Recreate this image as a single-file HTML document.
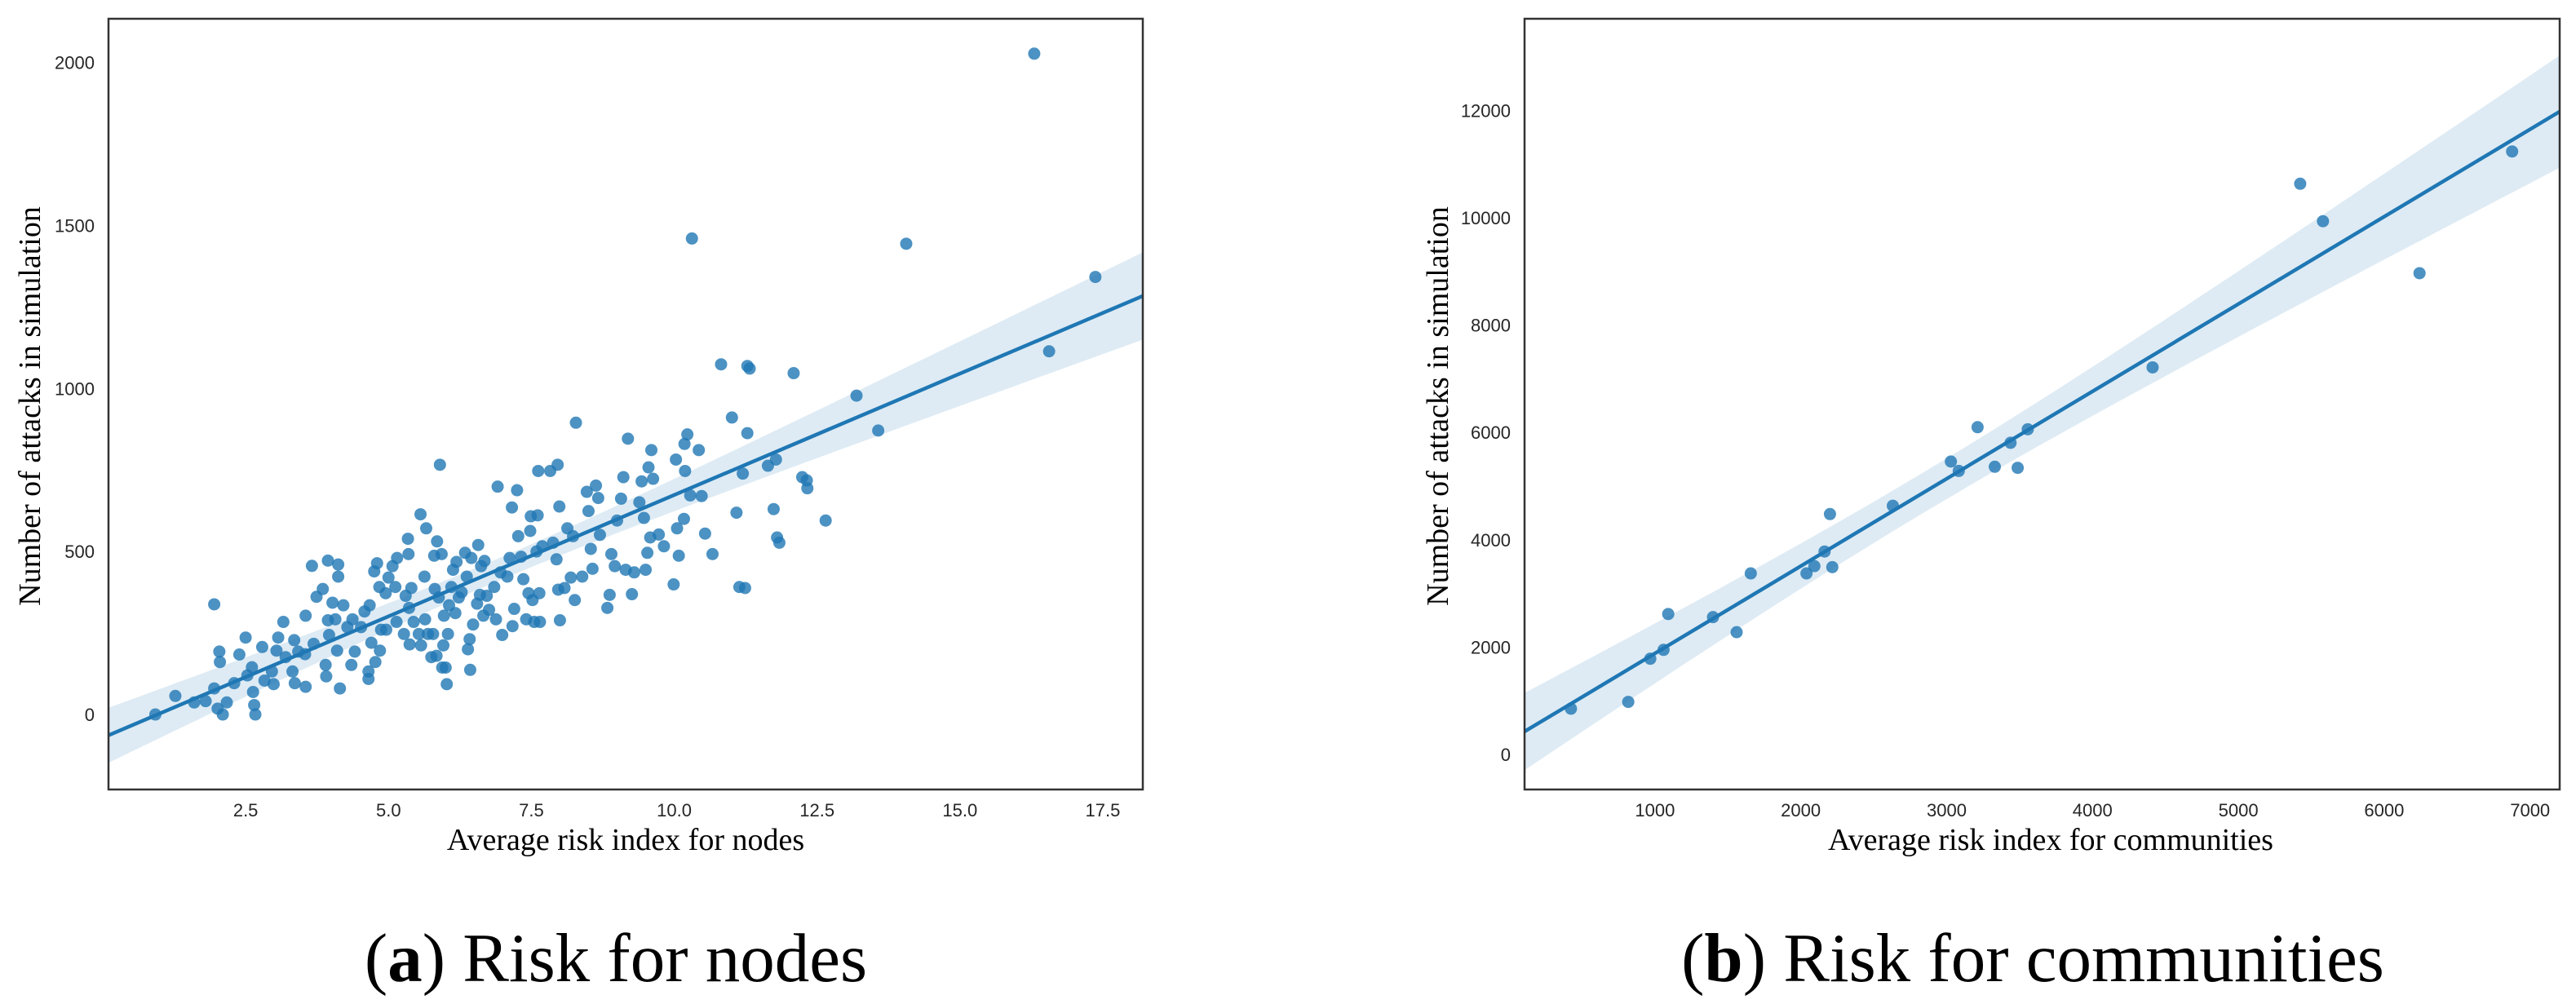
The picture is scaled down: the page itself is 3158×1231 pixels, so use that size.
<!DOCTYPE html>
<html><head><meta charset="utf-8"><style>
html,body{margin:0;padding:0;background:#fff;}
svg{display:block;}
.tick{font-family:"Liberation Sans",sans-serif;font-size:22px;fill:#262626;}
.lab{font-family:"Liberation Serif",serif;font-size:38px;fill:#000;}
.cap{font-family:"Liberation Serif",serif;font-size:85px;fill:#000;}
</style></head><body>
<svg id="fig" width="3158" height="1231" viewBox="0 0 3158 1231" xmlns="http://www.w3.org/2000/svg">
<rect width="3158" height="1231" fill="#fff"/>
<g id="pa"></g>
<g id="pb"></g>
<text class="lab" x="767" y="1042" text-anchor="middle">Average risk index for nodes</text>
<text class="lab" transform="translate(49,498) rotate(-90)" text-anchor="middle">Number of attacks in simulation</text>
<text class="lab" x="2514" y="1042" text-anchor="middle">Average risk index for communities</text>
<text class="lab" transform="translate(1775,498) rotate(-90)" text-anchor="middle">Number of attacks in simulation</text>
<text class="cap" x="755" y="1203" text-anchor="middle">(<tspan font-weight="bold">a</tspan>) Risk for nodes</text>
<text class="cap" x="2492" y="1203" text-anchor="middle">(<tspan font-weight="bold">b</tspan>) Risk for communities</text>
</svg>
<script>
const nodesX=[0.92,1.27,1.60,1.80,1.95,1.95,2.04,2.05,2.01,2.10,2.17,2.30,2.39,2.5,2.53,2.61,2.63,2.65,2.67,2.79,2.83,2.96,2.99,3.04,3.07,3.16,3.20,3.32,3.35,3.36,3.42,3.54,3.55,3.55,3.66,3.69,3.74,3.85,3.90,3.91,3.94,3.94,3.96,4.02,4.07,4.10,4.12,4.12,4.15,4.21,4.28,4.35,4.37,4.41,4.52,4.58,4.65,4.65,4.67,4.70,4.75,4.77,4.80,4.84,4.85,4.87,4.95,4.96,5.00,5.07,5.12,5.14,5.15,5.27,5.30,5.34,5.35,5.36,5.37,5.40,5.44,5.53,5.56,5.57,5.63,5.64,5.66,5.69,5.75,5.78,5.80,5.81,5.84,5.85,5.88,5.90,5.93,5.94,5.96,5.97,6.00,6.02,6.04,6.06,6.10,6.13,6.17,6.19,6.23,6.28,6.34,6.37,6.39,6.42,6.43,6.45,6.48,6.55,6.57,6.60,6.62,6.66,6.68,6.72,6.76,6.85,6.88,6.91,6.96,6.99,7.08,7.12,7.16,7.17,7.20,7.25,7.27,7.32,7.36,7.41,7.45,7.48,7.49,7.52,7.55,7.59,7.61,7.62,7.64,7.65,7.69,7.83,7.88,7.94,7.96,7.97,7.99,8.00,8.08,8.13,8.19,8.23,8.26,8.28,8.39,8.47,8.50,8.54,8.57,8.63,8.67,8.70,8.83,8.87,8.90,8.96,9.00,9.07,9.11,9.15,9.19,9.26,9.30,9.39,9.43,9.47,9.50,9.53,9.55,9.58,9.60,9.63,9.73,9.82,9.99,10.03,10.05,10.08,10.17,10.18,10.19,10.23,10.28,10.31,10.43,10.48,10.54,10.67,10.82,11.01,11.09,11.14,11.20,11.24,11.28,11.28,11.32,11.64,11.74,11.78,11.80,11.84,12.09,12.24,12.32,12.33,12.65,13.19,13.57,14.06,16.30,16.56,17.37];
const nodesY=[0,57,37,41,338,80,193,161,18,0,37,96,184,236,120,145,69,29,0,207,104,132,93,196,236,284,176,132,228,96,193,185,303,85,456,217,361,385,152,117,472,289,244,343,292,196,460,423,80,335,268,152,292,193,268,316,132,109,335,220,439,161,464,391,196,260,372,260,420,455,391,284,480,247,364,539,492,327,215,388,284,247,614,212,423,292,571,247,176,247,487,385,180,531,359,766,492,144,212,303,144,93,247,335,391,444,311,468,359,375,496,423,200,231,137,480,276,340,520,367,455,303,471,364,321,391,292,699,436,244,423,480,635,271,324,688,547,484,415,292,372,563,608,351,284,500,611,747,372,284,516,747,527,476,766,383,638,289,388,571,420,547,351,895,423,683,624,508,447,702,664,551,327,367,492,455,595,662,728,444,846,369,436,651,715,603,444,496,758,543,811,723,552,516,399,782,571,487,600,830,747,859,672,1460,811,670,555,492,1074,911,619,391,739,388,1069,863,1061,763,630,782,543,527,1047,728,718,694,595,978,871,1444,2027,1114,1342];
const nodesXTicks=[2.5,5.0,7.5,10.0,12.5,15.0,17.5];
const nodesYTicks=[0,500,1000,1500,2000];
const commX=[424,817,968,1059,1091,1398,1560,1657,2039,2093,2163,2200,2216,2631,3029,3083,3212,3330,3438,3487,3556,4412,5424,5580,6242,6877];
const commY=[853,979,1784,1949,2617,2559,2278,3374,3374,3509,3781,4479,3490,4634,5458,5283,6098,5361,5807,5341,6059,7212,10634,9936,8967,11235];
const commXTicks=[1000,2000,3000,4000,5000,6000,7000];
const commYTicks=[0,2000,4000,6000,8000,10000,12000];

const NS="http://www.w3.org/2000/svg";
function mk(tag,attrs,parent){const e=document.createElementNS(NS,tag);for(const k in attrs)e.setAttribute(k,attrs[k]);parent.appendChild(e);return e;}

function draw(g,xs,ys,xt,yt,cfg,fmtX){
  const sx=v=>cfg.x0+(v-cfg.xmin)/(cfg.xmax-cfg.xmin)*(cfg.x1-cfg.x0);
  const sy=v=>cfg.y1-(v-cfg.ymin)/(cfg.ymax-cfg.ymin)*(cfg.y1-cfg.y0);
  const clipId=cfg.id+"clip";
  const defs=mk('defs',{},g);
  const cp=mk('clipPath',{id:clipId},defs);
  mk('rect',{x:cfg.x0,y:cfg.y0,width:cfg.x1-cfg.x0,height:cfg.y1-cfg.y0},cp);
  const n=xs.length;let mx=0,my=0;for(let i=0;i<n;i++){mx+=xs[i];my+=ys[i];}mx/=n;my/=n;
  let sxx=0,sxy=0;for(let i=0;i<n;i++){sxx+=(xs[i]-mx)**2;sxy+=(xs[i]-mx)*(ys[i]-my);}
  const b=sxy/sxx,a=my-b*mx;let sse=0;for(let i=0;i<n;i++){sse+=(ys[i]-a-b*xs[i])**2;}
  const s=Math.sqrt(sse/(n-2));
  const up=[],lo=[];
  for(let k=0;k<=60;k++){const xv=cfg.xmin+(cfg.xmax-cfg.xmin)*k/60;const yh=a+b*xv;const se=cfg.ci*s*Math.sqrt(1/n+(xv-mx)**2/sxx);
    up.push(sx(xv).toFixed(1)+","+sy(yh+se).toFixed(1));lo.unshift(sx(xv).toFixed(1)+","+sy(yh-se).toFixed(1));}
  const cg=mk('g',{'clip-path':'url(#'+clipId+')'},g);
  const band=mk('polygon',{points:up.concat(lo).join(" "),fill:"#1f77b4","fill-opacity":"0.15"},cg);
  
  
  for(let i=0;i<n;i++){
    const c=mk('circle',{cx:sx(xs[i]),cy:sy(ys[i]),r:cfg.r,fill:"#1f77b4","fill-opacity":"0.8"},cg);
    
    
  }
  const ln=mk('line',{x1:sx(cfg.xmin),y1:sy(a+b*cfg.xmin),x2:sx(cfg.xmax),y2:sy(a+b*cfg.xmax),stroke:"#1f77b4","stroke-width":4.5},cg);
  
  
  const fr=mk('rect',{x:cfg.x0,y:cfg.y0,width:cfg.x1-cfg.x0,height:cfg.y1-cfg.y0,fill:"none",stroke:"#333","stroke-width":2.5},g);
  
  
  xt.forEach(v=>{const t=mk('text',{x:sx(v),y:1001,'text-anchor':'middle','class':'tick'},g);t.textContent=fmtX(v);
    
    });
  yt.forEach(v=>{const t=mk('text',{x:cfg.x0-17,y:sy(v)+8,'text-anchor':'end','class':'tick'},g);t.textContent=String(v);
    
    });
}
draw(document.getElementById('pa'),nodesX,nodesY,nodesXTicks,nodesYTicks,
  {id:'a',x0:133,x1:1401,y0:23,y1:968,xmin:0.1,xmax:18.2,ymin:-230,ymax:2134,r:7.5,ci:3.2},v=>v.toFixed(1));
draw(document.getElementById('pb'),commX,commY,commXTicks,commYTicks,
  {id:'b',x0:1869,x1:3138,y0:23,y1:968,xmin:106,xmax:7203,ymin:-653,ymax:13708,r:7.5,ci:3.4},v=>String(v));
</script>
</body></html>
